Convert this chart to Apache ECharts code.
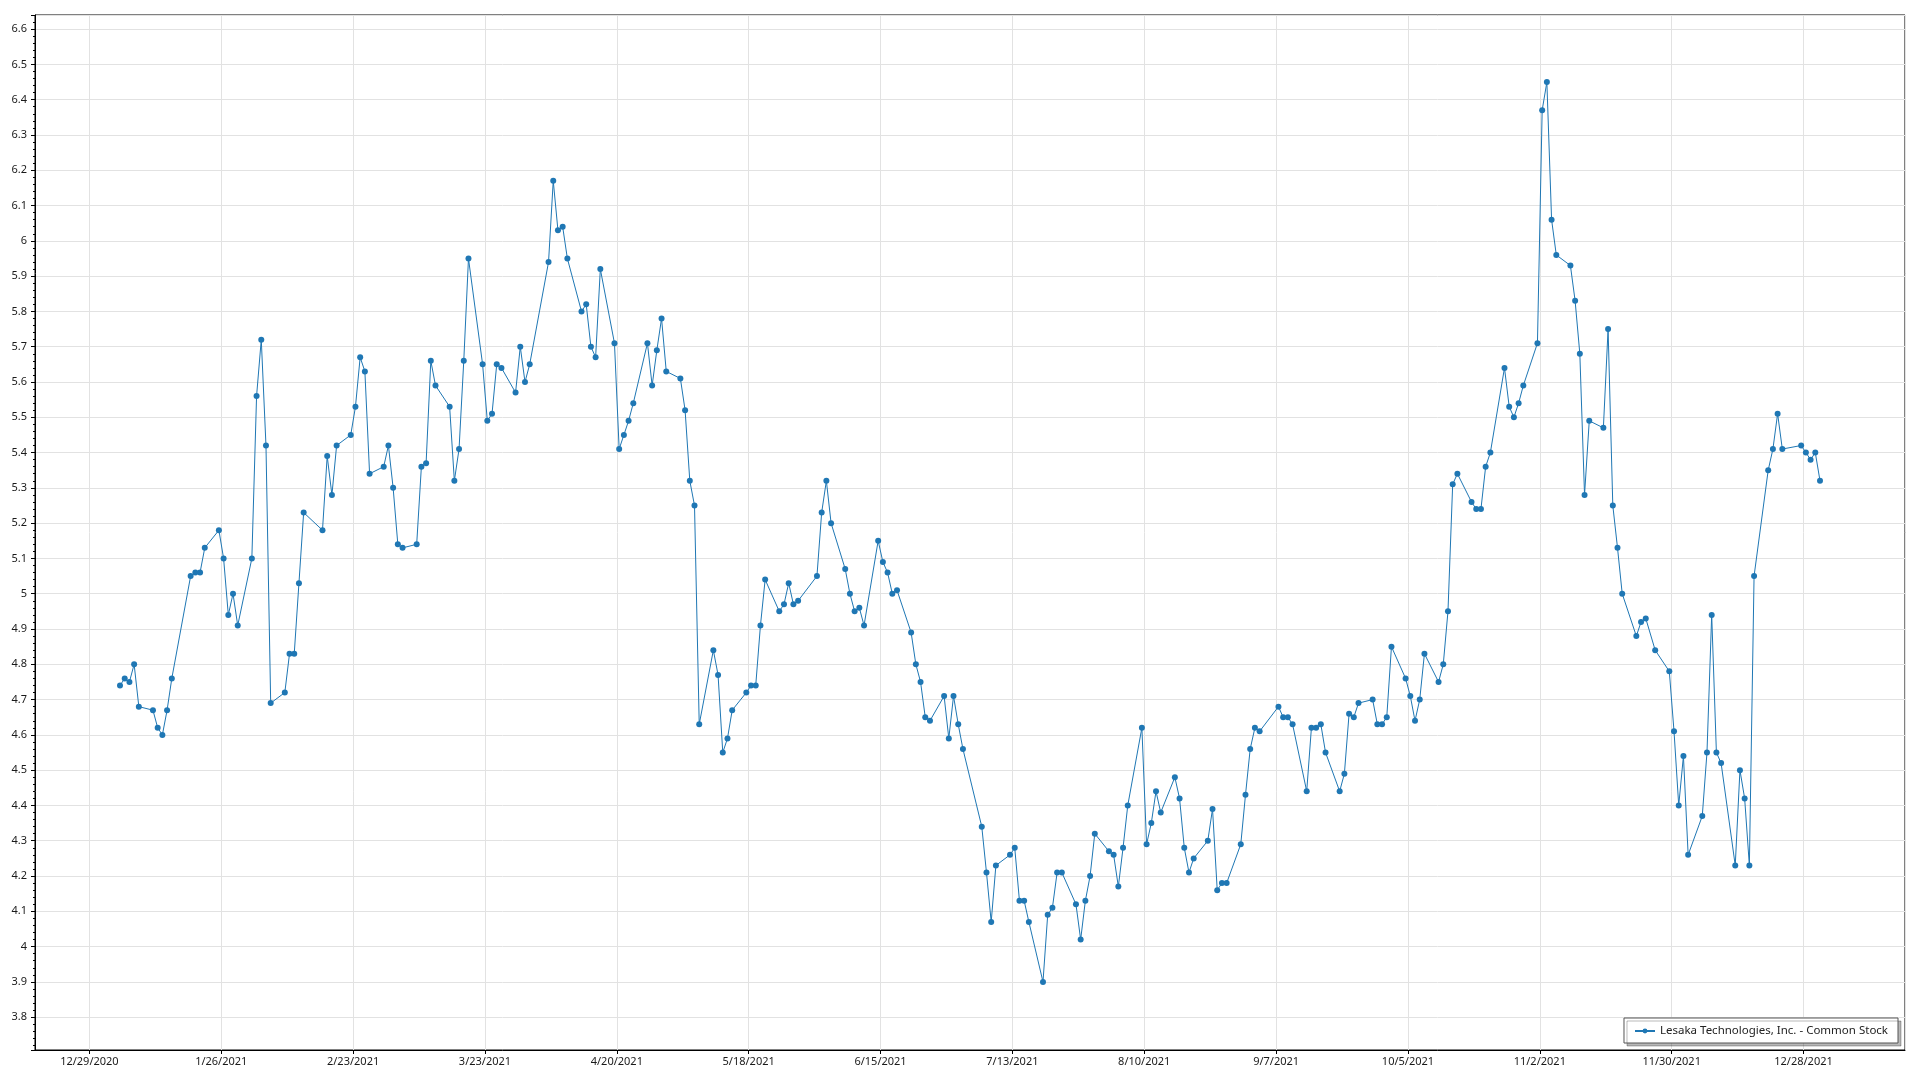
<!DOCTYPE html>
<html>
<head>
<meta charset="utf-8">
<script src="https://cdn.jsdelivr.net/npm/echarts@6/dist/echarts.min.js"></script>
<style>
html,body{margin:0;padding:0;background:#fff;}
#chart{width:1920px;height:1080px;}
</style>
</head>
<body>
<div id="chart"></div>
<script>
const seriesName = 'Lesaka Technologies, Inc. - Common Stock';

const dates = [
'2021-01-04','2021-01-05','2021-01-06','2021-01-07','2021-01-08',
'2021-01-11','2021-01-12','2021-01-13','2021-01-14','2021-01-15',
'2021-01-19','2021-01-20','2021-01-21','2021-01-22',
'2021-01-25','2021-01-26','2021-01-27','2021-01-28','2021-01-29',
'2021-02-01','2021-02-02','2021-02-03','2021-02-04','2021-02-05',
'2021-02-08','2021-02-09','2021-02-10','2021-02-11','2021-02-12',
'2021-02-16','2021-02-17','2021-02-18','2021-02-19',
'2021-02-22','2021-02-23','2021-02-24','2021-02-25','2021-02-26',
'2021-03-01','2021-03-02','2021-03-03','2021-03-04','2021-03-05',
'2021-03-08','2021-03-09','2021-03-10','2021-03-11','2021-03-12',
'2021-03-15','2021-03-16','2021-03-17','2021-03-18','2021-03-19',
'2021-03-22','2021-03-23','2021-03-24','2021-03-25','2021-03-26',
'2021-03-29','2021-03-30','2021-03-31','2021-04-01',
'2021-04-05','2021-04-06','2021-04-07','2021-04-08','2021-04-09',
'2021-04-12','2021-04-13','2021-04-14','2021-04-15','2021-04-16',
'2021-04-19','2021-04-20','2021-04-21','2021-04-22','2021-04-23',
'2021-04-26','2021-04-27','2021-04-28','2021-04-29','2021-04-30',
'2021-05-03','2021-05-04','2021-05-05','2021-05-06','2021-05-07',
'2021-05-10','2021-05-11','2021-05-12','2021-05-13','2021-05-14',
'2021-05-17','2021-05-18','2021-05-19','2021-05-20','2021-05-21',
'2021-05-24','2021-05-25','2021-05-26','2021-05-27','2021-05-28',
'2021-06-01','2021-06-02','2021-06-03','2021-06-04',
'2021-06-07','2021-06-08','2021-06-09','2021-06-10','2021-06-11',
'2021-06-14','2021-06-15','2021-06-16','2021-06-17','2021-06-18',
'2021-06-21','2021-06-22','2021-06-23','2021-06-24','2021-06-25',
'2021-06-28','2021-06-29','2021-06-30','2021-07-01','2021-07-02',
'2021-07-06','2021-07-07','2021-07-08','2021-07-09',
'2021-07-12','2021-07-13','2021-07-14','2021-07-15','2021-07-16',
'2021-07-19','2021-07-20','2021-07-21','2021-07-22','2021-07-23',
'2021-07-26','2021-07-27','2021-07-28','2021-07-29','2021-07-30',
'2021-08-02','2021-08-03','2021-08-04','2021-08-05','2021-08-06',
'2021-08-09','2021-08-10','2021-08-11','2021-08-12','2021-08-13',
'2021-08-16','2021-08-17','2021-08-18','2021-08-19','2021-08-20',
'2021-08-23','2021-08-24','2021-08-25','2021-08-26','2021-08-27',
'2021-08-30','2021-08-31','2021-09-01','2021-09-02','2021-09-03',
'2021-09-07','2021-09-08','2021-09-09','2021-09-10',
'2021-09-13','2021-09-14','2021-09-15','2021-09-16','2021-09-17',
'2021-09-20','2021-09-21','2021-09-22','2021-09-23','2021-09-24',
'2021-09-27','2021-09-28','2021-09-29','2021-09-30','2021-10-01',
'2021-10-04','2021-10-05','2021-10-06','2021-10-07','2021-10-08',
'2021-10-11','2021-10-12','2021-10-13','2021-10-14','2021-10-15',
'2021-10-18','2021-10-19','2021-10-20','2021-10-21','2021-10-22',
'2021-10-25','2021-10-26','2021-10-27','2021-10-28','2021-10-29',
'2021-11-01','2021-11-02','2021-11-03','2021-11-04','2021-11-05',
'2021-11-08','2021-11-09','2021-11-10','2021-11-11','2021-11-12',
'2021-11-15','2021-11-16','2021-11-17','2021-11-18','2021-11-19',
'2021-11-22','2021-11-23','2021-11-24','2021-11-26',
'2021-11-29','2021-11-30','2021-12-01','2021-12-02','2021-12-03',
'2021-12-06','2021-12-07','2021-12-08','2021-12-09','2021-12-10',
'2021-12-13','2021-12-14','2021-12-15','2021-12-16','2021-12-17',
'2021-12-20','2021-12-21','2021-12-22','2021-12-23',
'2021-12-27','2021-12-28','2021-12-29','2021-12-30','2021-12-31'
];

const prices = [
4.74,4.76,4.75,4.80,4.68,
4.67,4.62,4.60,4.67,4.76,
5.05,5.06,5.06,5.13,
5.18,5.10,4.94,5.00,4.91,
5.10,5.56,5.72,5.42,4.69,
4.72,4.83,4.83,5.03,5.23,
5.18,5.39,5.28,5.42,
5.45,5.53,5.67,5.63,5.34,
5.36,5.42,5.30,5.14,5.13,
5.14,5.36,5.37,5.66,5.59,
5.53,5.32,5.41,5.66,5.95,
5.65,5.49,5.51,5.65,5.64,
5.57,5.70,5.60,5.65,
5.94,6.17,6.03,6.04,5.95,
5.80,5.82,5.70,5.67,5.92,
5.71,5.41,5.45,5.49,5.54,
5.71,5.59,5.69,5.78,5.63,
5.61,5.52,5.32,5.25,4.63,
4.84,4.77,4.55,4.59,4.67,
4.72,4.74,4.74,4.91,5.04,
4.95,4.97,5.03,4.97,4.98,
5.05,5.23,5.32,5.20,
5.07,5.00,4.95,4.96,4.91,
5.15,5.09,5.06,5.00,5.01,
4.89,4.80,4.75,4.65,4.64,
4.71,4.59,4.71,4.63,4.56,
4.34,4.21,4.07,4.23,
4.26,4.28,4.13,4.13,4.07,
3.90,4.09,4.11,4.21,4.21,
4.12,4.02,4.13,4.20,4.32,
4.27,4.26,4.17,4.28,4.40,
4.62,4.29,4.35,4.44,4.38,
4.48,4.42,4.28,4.21,4.25,
4.30,4.39,4.16,4.18,4.18,
4.29,4.43,4.56,4.62,4.61,
4.68,4.65,4.65,4.63,
4.44,4.62,4.62,4.63,4.55,
4.44,4.49,4.66,4.65,4.69,
4.70,4.63,4.63,4.65,4.85,
4.76,4.71,4.64,4.70,4.83,
4.75,4.80,4.95,5.31,5.34,
5.26,5.24,5.24,5.36,5.40,
5.64,5.53,5.50,5.54,5.59,
5.71,6.37,6.45,6.06,5.96,
5.93,5.83,5.68,5.28,5.49,
5.47,5.75,5.25,5.13,5.00,
4.88,4.92,4.93,4.84,
4.78,4.61,4.40,4.54,4.26,
4.37,4.55,4.94,4.55,4.52,
4.23,4.50,4.42,4.23,5.05,
5.35,5.41,5.51,5.41,
5.42,5.40,5.38,5.40,5.32
];

const xTickLabels = [
'12/29/2020','1/26/2021','2/23/2021','3/23/2021','4/20/2021','5/18/2021','6/15/2021',
'7/13/2021','8/10/2021','9/7/2021','10/5/2021','11/2/2021','11/30/2021','12/28/2021'
];

// x axis runs in days counted from the first tick date (12/29/2020)
const tickOrigin = Date.UTC(2020, 11, 29);
const DAY = 86400000;
function dayOf(s) {
  const p = s.split('-').map(Number);
  return (Date.UTC(p[0], p[1] - 1, p[2]) - tickOrigin) / DAY + 0.5; // trade at mid-day
}
const points = dates.map((d, i) => [dayOf(d), prices[i]]);

const first = points[0][0], last = points[points.length - 1][0];
const pad = (last - first) * 0.05;

const FONT = 'Noto Sans';
const chart = echarts.init(document.getElementById('chart'), null, { renderer: 'canvas' });

chart.setOption({
  animation: false,
  backgroundColor: '#ffffff',
  grid: {
    left: 35, right: 15, top: 15, bottom: 30,
    show: true, borderColor: '#000', borderWidth: 1, backgroundColor: 'transparent'
  },
  xAxis: {
    type: 'value',
    min: first - pad,
    max: last + pad,
    minInterval: 28,
    maxInterval: 28,
    axisLine: { show: true, onZero: false, lineStyle: { color: '#000', width: 1 } },
    axisTick: { show: true, length: 4, lineStyle: { color: '#000' } },
    axisLabel: {
      showMinLabel: false, showMaxLabel: false,
      margin: 6, color: '#1a1a1a', fontFamily: FONT, fontSize: 11,
      formatter: function (v) { const i = Math.round(v / 28); return xTickLabels[i] || ''; }
    },
    splitLine: { show: true, lineStyle: { color: '#e2e2e2', width: 1 } }
  },
  yAxis: {
    type: 'value',
    min: 3.707,
    max: 6.64,
    minInterval: 0.1,
    maxInterval: 0.1,
    axisLine: { show: true, onZero: false, lineStyle: { color: '#000', width: 1 } },
    axisTick: { show: true, length: 4, lineStyle: { color: '#000' } },
    minorTick: { show: true, splitNumber: 5, length: 2, lineStyle: { color: '#000' } },
    axisLabel: {
      showMinLabel: false, showMaxLabel: false,
      margin: 8, color: '#1a1a1a', fontFamily: FONT, fontSize: 11
    },
    splitLine: { show: true, lineStyle: { color: '#e2e2e2', width: 1 } }
  },
  legend: {
    show: true,
    right: 22, bottom: 37,
    backgroundColor: '#ffffff',
    borderColor: '#555555', borderWidth: 1, borderRadius: 0,
    padding: [7, 10, 6, 10],
    itemWidth: 20, itemHeight: 6, itemGap: 10,
    shadowColor: 'rgba(0,0,0,0.28)', shadowBlur: 0, shadowOffsetX: 3, shadowOffsetY: 3,
    textStyle: { fontFamily: FONT, fontSize: 11.5, color: '#222' },
    data: [seriesName]
  },
  series: [{
    name: seriesName,
    type: 'line',
    data: points,
    symbol: 'circle',
    symbolSize: 6,
    showAllSymbol: true,
    color: '#1f77b4',
    itemStyle: { color: '#1f77b4', borderWidth: 0 },
    lineStyle: { color: '#1f77b4', width: 1 },
    emphasis: { disabled: true }
  }]
});
</script>
</body>
</html>
